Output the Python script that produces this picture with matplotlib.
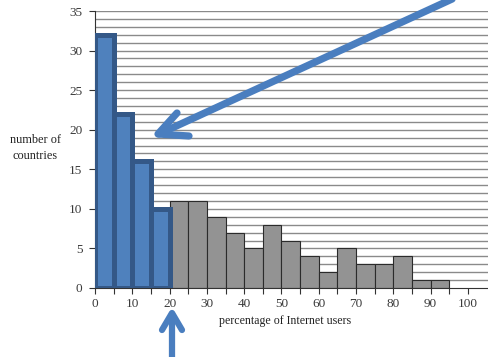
import matplotlib
matplotlib.use("Agg")
import matplotlib.pyplot as plt
from matplotlib.lines import Line2D
import numpy as np

bin_edges = list(range(0, 105, 5))
counts = [32, 22, 16, 10, 11, 11, 9, 7, 5, 8, 6, 4, 2, 5, 3, 3, 4, 1, 1, 0]
highlight_bins = 4  # first four bins highlighted (0-20%)
x_ticks_major = list(range(0, 101, 10))
y_ticks = list(range(0, 36, 5))

plt.rcParams['font.family'] = ['Liberation Serif', 'DejaVu Serif']

W, H = 488, 357
fig = plt.figure(figsize=(W/100, H/100), dpi=100)
ax = fig.add_axes([95/W, (H-288)/H, 1 - 95/W, (288-11)/H])

ax.set_xlim(0, 105.4)
ax.set_ylim(0, 35)

# horizontal gridlines each unit
for yv in range(1, 36):
    ax.axhline(yv, color='#8a8a8a', lw=1.0, zorder=0)

lefts = bin_edges[:-1]
for i, (l, c) in enumerate(zip(lefts, counts)):
    if c == 0:
        continue
    if i < highlight_bins:
        ax.bar(l, c, width=5, align='edge', color='#4F81BD', edgecolor='#345887',
               linewidth=3.6, zorder=3)
    else:
        ax.bar(l, c, width=5, align='edge', color='#939393', edgecolor='#2b2b2b',
               linewidth=0.8, zorder=2)

for s in ['top', 'right']:
    ax.spines[s].set_visible(False)
ax.spines['left'].set_color('#333333')
ax.spines['bottom'].set_color('#333333')
ax.spines['left'].set_linewidth(0.8)
ax.spines['bottom'].set_linewidth(0.8)

ax.set_yticks(y_ticks)
ax.set_xticks(x_ticks_major)
ax.set_xticks(bin_edges, minor=True)
ax.tick_params(axis='both', labelsize=9.5, colors='#333333', length=4, width=0.8)
ax.tick_params(axis='x', which='minor', length=4, width=0.8, colors='#333333')
ax.tick_params(axis='x', pad=3)
ax.tick_params(axis='y', pad=5)
for lab in ax.get_xticklabels() + ax.get_yticklabels():
    lab.set_color('#3a3a3a')

fig.text(285/W, 1 - 321/H, 'percentage of Internet users', ha='center', va='center',
         fontsize=8.6, color='#222222')
fig.text(35/W, 1 - 148/H, 'number of\ncountries', ha='center', va='center',
         fontsize=8.8, color='#222222', linespacing=1.35)

arrow_color = '#4A7EBF'


def pix_line(xs, ys, lw):
    ln = Line2D([x / W for x in xs], [1 - y / H for y in ys], transform=fig.transFigure,
                color=arrow_color, lw=lw, solid_capstyle='round',
                solid_joinstyle='round', zorder=10)
    fig.add_artist(ln)


# main diagonal arrow (pixel coords, y from top)
pix_line([463, 159], [-6, 134], 5.2)
pix_line([177, 158, 189], [113, 134, 136], 5.2)

# upward arrow
pix_line([172, 172], [365, 314], 4.5)
pix_line([162, 172, 182], [330, 313, 330], 4.5)

fig.savefig('out.png', dpi=100)
